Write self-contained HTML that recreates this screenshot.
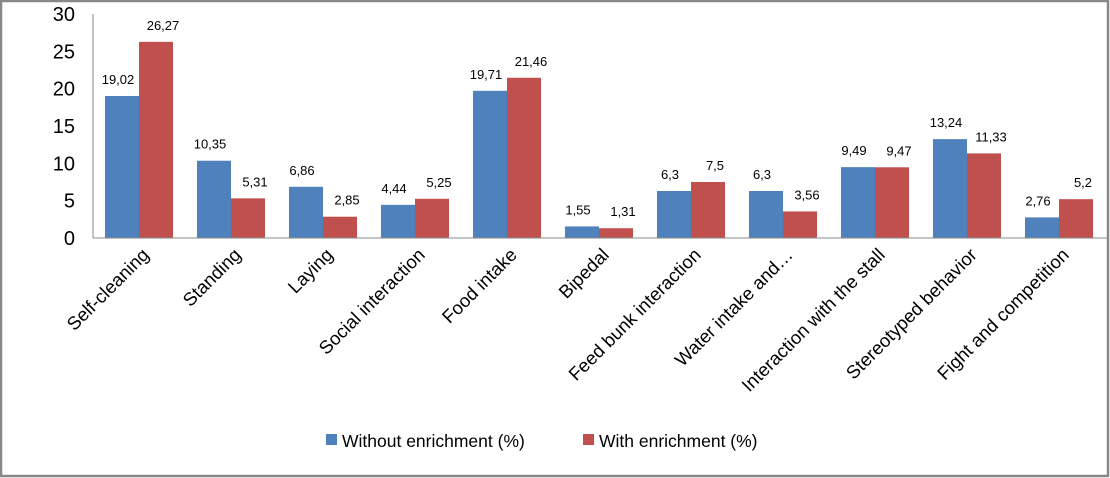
<!DOCTYPE html>
<html><head><meta charset="utf-8"><style>
body{margin:0;background:#fff}
svg{display:block;font-family:"Liberation Sans",sans-serif}
</style></head><body>
<svg id="c" width="1110" height="478">
<rect x="1" y="1" width="1107" height="475" fill="#fff" stroke="#888" stroke-width="2.5"/>
</svg>
<script>
const categories=["Self-cleaning","Standing","Laying","Social interaction","Food intake","Bipedal","Feed bunk interaction","Water intake and…","Interaction with the stall","Stereotyped behavior","Fight and competition"];
const without=[19.02,10.35,6.86,4.44,19.71,1.55,6.3,6.3,9.49,13.24,2.76];
const withE=[26.27,5.31,2.85,5.25,21.46,1.31,7.5,3.56,9.47,11.33,5.2];
const ticks=[0,5,10,15,20,25,30];
const NS="http://www.w3.org/2000/svg",svg=document.getElementById('c');
const x0=93,band=92,y0=238,yTop=14,yMax=30;
const y=v=>y0-(v/yMax)*(y0-yTop);
function el(t,a,txt){const e=document.createElementNS(NS,t);for(const k in a)e.setAttribute(k,a[k]);if(txt!==undefined)e.textContent=txt;svg.appendChild(e);return e;}
const fmt=v=>String(v).replace('.',',');
ticks.forEach(t=>{const e=el('text',{x:75,y:y(t)+7,'text-anchor':'end','font-size':20,fill:'#000'},t);

});
categories.forEach((c,i)=>{
 const cx=x0+band*i+band/2;
 [[without[i],'#4f81bd',cx-34,'bar-without',-4],[withE[i],'#c0504d',cx,'bar-with',7]].forEach(([v,col,bx,nm,off])=>{
  const r=el('rect',{x:bx,y:y(v),width:34,height:y0-y(v),fill:col});
  
  
  const l=el('text',{x:bx+17+off,y:y(v)-12,'text-anchor':'middle','font-size':13,fill:'#000'},fmt(v));
  
  
 });
 const t=el('text',{x:cx+11,y:256,'text-anchor':'end','font-size':18.5,fill:'#000',transform:`rotate(-45 ${cx+11} 256)`},c);
 
 
});
const ax=el('line',{x1:x0,y1:yTop,x2:x0,y2:y0,stroke:'#888','stroke-width':1});


const bx=el('line',{x1:x0,y1:y0,x2:1107,y2:y0,stroke:'#888','stroke-width':1});


[['#4f81bd',326,'Without enrichment (%)'],['#c0504d',583,'With enrichment (%)']].forEach(([col,lx,txt])=>{
 const s=el('rect',{x:lx,y:434,width:11,height:11,fill:col});
 
 
 const t=el('text',{x:lx+16,y:447,'font-size':17.5,fill:'#000'},txt);
 
 
});
</script>
</body></html>
